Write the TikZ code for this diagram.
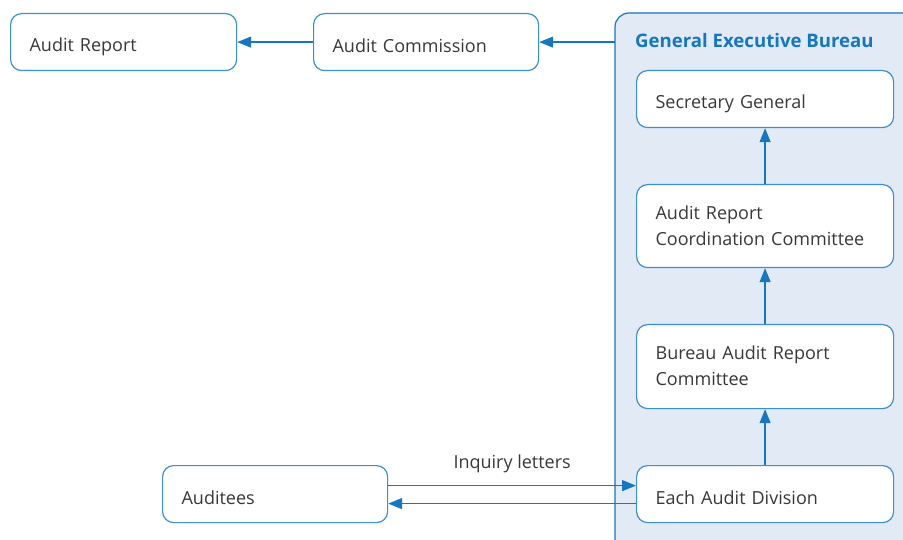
\documentclass[tikz,border=0pt]{standalone}
\usepackage{fontspec}
\setmainfont{Open Sans}
\usetikzlibrary{arrows.meta}
\definecolor{boxline}{HTML}{3A8FD0}
\definecolor{arrowc}{HTML}{1577C0}
\definecolor{bureaufill}{HTML}{E2EAF6}
\definecolor{txt}{HTML}{383838}
\newcommand{\topl}{\rule[-2pt]{0pt}{25pt}}
\newcommand{\topm}{\rule{0pt}{20pt}}
\tikzset{
  box/.style={draw=boxline, line width=1.2pt, rounded corners=11pt, fill=white, text=txt,
    font=\fontsize{18}{26}\selectfont, align=left, inner xsep=19pt, anchor=north west},
  conn/.style={draw=arrowc, line width=1.3pt, -{Triangle[length=14pt,width=11pt]}},
}
\begin{document}
\begin{tikzpicture}[x=1pt,y=-1pt]
\useasboundingbox (0,0) rectangle (903,540);
\clip (0,0) rectangle (903,540);
% bureau container
\draw[draw=arrowc, line width=1.2pt, fill=bureaufill, rounded corners=14pt] (615,560) -- (615,13) -- (930,13) -- (930,560);
\node[anchor=west, text=arrowc, font=\fontsize{18.6}{20}\selectfont\bfseries, inner sep=0pt] (title) at (635,41) {General Executive Bureau};
% boxes
\node[box, minimum width=226pt, minimum height=57pt, text width=188pt] (report) at (10,13) {\topl Audit Report};
\node[box, minimum width=225pt, minimum height=57pt, text width=187pt] (comm) at (313,13) {\topl Audit Commission};
\node[box, minimum width=257pt, minimum height=57pt, text width=219pt] (sg) at (636,70) {\topl Secretary General};
\node[box, minimum width=257pt, minimum height=83pt, text width=219pt] (arcc) at (636,184) {\topm Audit Report\\Coordination Committee\strut};
\node[box, minimum width=257pt, minimum height=84pt, text width=219pt] (barc) at (636,324) {\topm Bureau Audit Report\\Committee\strut};
\node[box, minimum width=257pt, minimum height=57pt, text width=219pt] (div) at (636,465) {\topl Each Audit Division};
\node[box, minimum width=225pt, minimum height=57pt, text width=187pt] (aud) at (162,465) {\topl Auditees};
% connectors
\coordinate (bl) at (615,41.5);
\draw[conn] (comm.west) -- (report.east);
\draw[conn] (comm.east -| bl) -- (comm.east);
\draw[conn] (div.north) -- (barc.south);
\draw[conn] (barc.north) -- (arcc.south);
\draw[conn] (arcc.north) -- (sg.south);
\draw[conn] ([yshift=8.5pt]aud.east) -- node[above=9pt, text=txt, font=\fontsize{18}{20}\selectfont] (lbl) {Inquiry letters} ([yshift=8.5pt]div.west);
\draw[conn] ([yshift=-9.5pt]div.west) -- ([yshift=-9.5pt]aud.east);
\end{tikzpicture}
\end{document}
